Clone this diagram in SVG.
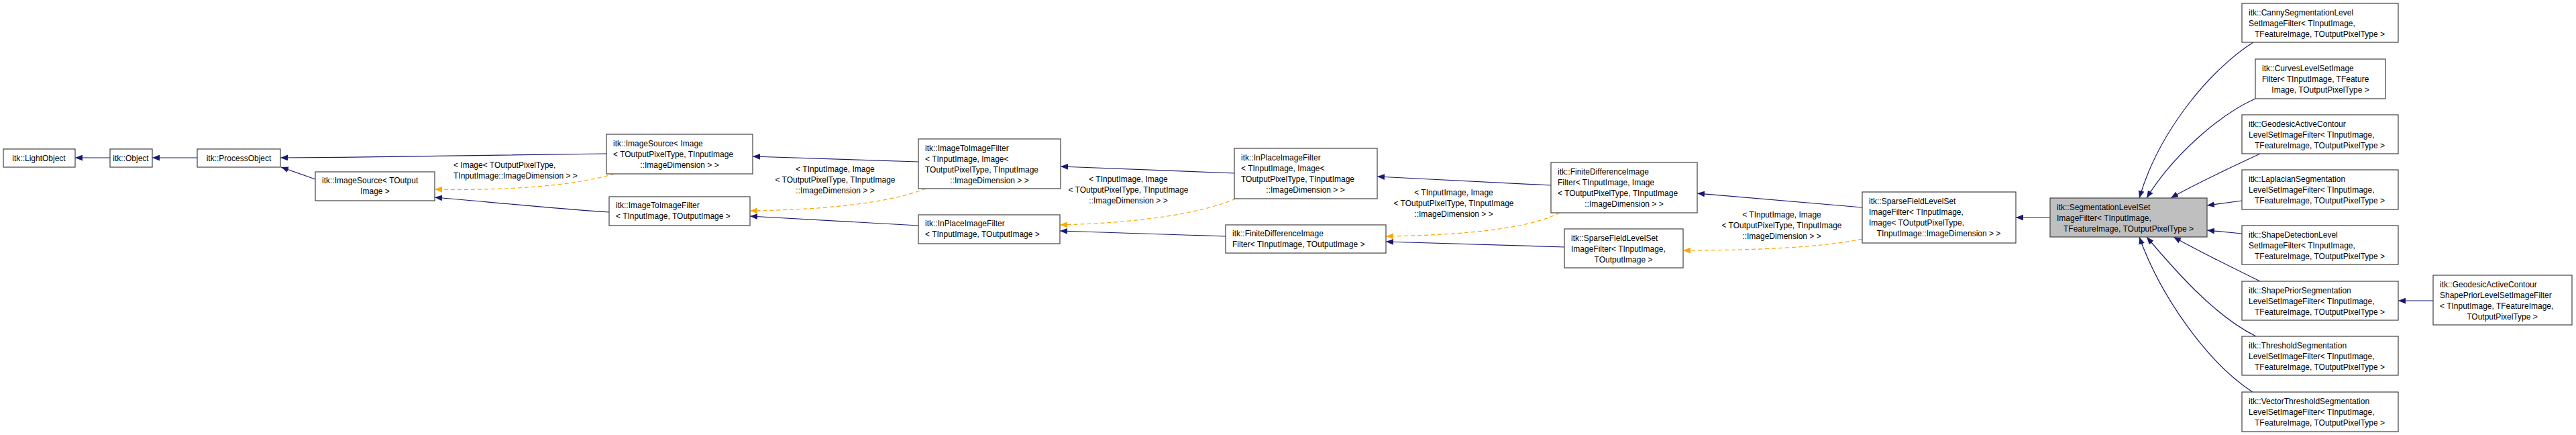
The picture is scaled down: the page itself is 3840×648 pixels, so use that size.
<svg xmlns="http://www.w3.org/2000/svg" width="3840" height="648" viewBox="0 0 3840 648">
<style>
text{font-family:"Liberation Sans",Arial,sans-serif;font-size:12px;fill:#000}
.n rect{fill:#fff;stroke:#404040;stroke-width:1.2}
.n.g rect{fill:#bfbfbf}
.c{text-anchor:middle}
.e{fill:none;stroke:#191970;stroke-width:1.2}
.o{fill:none;stroke:#ffa500;stroke-width:1.2;stroke-dasharray:6,4}
</style>
<defs>
<marker id="ab" viewBox="0 0 10 8" refX="10" refY="4" markerWidth="11" markerHeight="9" markerUnits="userSpaceOnUse" orient="auto"><path d="M0,0L10,4L0,8z" fill="#191970"/></marker>
<marker id="ao" viewBox="0 0 10 8" refX="10" refY="4" markerWidth="11" markerHeight="9" markerUnits="userSpaceOnUse" orient="auto"><path d="M0,0L10,4L0,8z" fill="#ffa500"/></marker>
</defs>
<rect width="3840" height="648" fill="#fff"/>
<g id="edges">
<path class="e" marker-end="url(#ab)" d="M164,235L112,235"/>
<path class="e" marker-end="url(#ab)" d="M294,235L227,235"/>
<path class="e" marker-end="url(#ab)" d="M470,267L419,249"/>
<path class="e" marker-end="url(#ab)" d="M904,229C800,231 600,234 418,235"/>
<path class="o" marker-end="url(#ao)" d="M916,259C850,278 750,284 648,282"/>
<path class="e" marker-end="url(#ab)" d="M908,316C820,310 720,300 648,294"/>
<path class="e" marker-end="url(#ab)" d="M1369,241L1122,233"/>
<path class="o" marker-end="url(#ao)" d="M1380,281C1330,300 1250,312 1118,314"/>
<path class="e" marker-end="url(#ab)" d="M1369,336L1118,322"/>
<path class="e" marker-end="url(#ab)" d="M1840,258L1581,248"/>
<path class="o" marker-end="url(#ao)" d="M1842,296C1790,318 1700,332 1580,335"/>
<path class="e" marker-end="url(#ab)" d="M1827,352L1580,344"/>
<path class="e" marker-end="url(#ab)" d="M2312,276L2053,263"/>
<path class="o" marker-end="url(#ao)" d="M2325,317C2280,340 2190,350 2066,352"/>
<path class="e" marker-end="url(#ab)" d="M2332,368L2066,360"/>
<path class="e" marker-end="url(#ab)" d="M2776,309L2530,288"/>
<path class="o" marker-end="url(#ao)" d="M2776,356C2720,368 2620,373 2509,373"/>
<path class="e" marker-end="url(#ab)" d="M3056,324L3005,324"/>
<path class="e" marker-end="url(#ab)" d="M3359,63C3300,100 3220,190 3189,295"/>
<path class="e" marker-end="url(#ab)" d="M3362,147C3310,170 3240,230 3200,295"/>
<path class="e" marker-end="url(#ab)" d="M3369,229C3320,252 3270,275 3236,295"/>
<path class="e" marker-end="url(#ab)" d="M3342,299L3290,306"/>
<path class="e" marker-end="url(#ab)" d="M3342,348L3290,343"/>
<path class="e" marker-end="url(#ab)" d="M3369,419C3320,395 3270,370 3240,353"/>
<path class="e" marker-end="url(#ab)" d="M3363,501C3300,470 3240,400 3200,353"/>
<path class="e" marker-end="url(#ab)" d="M3358,584C3290,540 3220,440 3189,353"/>
<path class="e" marker-end="url(#ab)" d="M3627,448L3575,448"/>
<text x="676" y="250">&lt; Image&lt; TOutputPixelType,</text>
<text x="676" y="266">TInputImage::ImageDimension &gt; &gt;</text>
<text class="c" x="1245" y="256">&lt; TInputImage, Image</text>
<text class="c" x="1245" y="272">&lt; TOutputPixelType, TInputImage</text>
<text class="c" x="1245" y="288">::ImageDimension &gt; &gt;</text>
<text class="c" x="1682" y="271">&lt; TInputImage, Image</text>
<text class="c" x="1682" y="287">&lt; TOutputPixelType, TInputImage</text>
<text class="c" x="1682" y="303">::ImageDimension &gt; &gt;</text>
<text class="c" x="2167" y="291">&lt; TInputImage, Image</text>
<text class="c" x="2167" y="307">&lt; TOutputPixelType, TInputImage</text>
<text class="c" x="2167" y="323">::ImageDimension &gt; &gt;</text>
<text class="c" x="2656" y="324">&lt; TInputImage, Image</text>
<text class="c" x="2656" y="340">&lt; TOutputPixelType, TInputImage</text>
<text class="c" x="2656" y="356">::ImageDimension &gt; &gt;</text>
</g>
<g id="n1" class="n"><rect x="5" y="222" width="107" height="27"/><text class="c" x="58" y="240">itk::LightObject</text></g>
<g id="n2" class="n"><rect x="164" y="222" width="63" height="27"/><text class="c" x="195" y="240">itk::Object</text></g>
<g id="n3" class="n"><rect x="294" y="222" width="124" height="27"/><text class="c" x="356" y="240">itk::ProcessObject</text></g>
<g id="n4" class="n"><rect x="470" y="256" width="178" height="43"/><text x="480" y="273">itk::ImageSource&lt; TOutput</text><text class="c" x="559" y="289">Image &gt;</text></g>
<g id="n5" class="n"><rect x="904" y="200" width="218" height="59"/><text x="914" y="218">itk::ImageSource&lt; Image</text><text x="914" y="234">&lt; TOutputPixelType, TInputImage</text><text class="c" x="1013" y="250">::ImageDimension &gt; &gt;</text></g>
<g id="n6" class="n"><rect x="908" y="293" width="210" height="43"/><text x="918" y="310">itk::ImageToImageFilter</text><text x="918" y="326">&lt; TInputImage, TOutputImage &gt;</text></g>
<g id="n7" class="n"><rect x="1369" y="207" width="212" height="74"/><text x="1379" y="225">itk::ImageToImageFilter</text><text x="1379" y="241">&lt; TInputImage, Image&lt;</text><text x="1379" y="257">TOutputPixelType, TInputImage</text><text class="c" x="1475" y="273">::ImageDimension &gt; &gt;</text></g>
<g id="n8" class="n"><rect x="1369" y="320" width="211" height="43"/><text x="1379" y="337">itk::InPlaceImageFilter</text><text x="1379" y="353">&lt; TInputImage, TOutputImage &gt;</text></g>
<g id="n9" class="n"><rect x="1840" y="221" width="213" height="75"/><text x="1850" y="239">itk::InPlaceImageFilter</text><text x="1850" y="255">&lt; TInputImage, Image&lt;</text><text x="1850" y="271">TOutputPixelType, TInputImage</text><text class="c" x="1946" y="287">::ImageDimension &gt; &gt;</text></g>
<g id="n10" class="n"><rect x="1827" y="335" width="239" height="42"/><text x="1837" y="352">itk::FiniteDifferenceImage</text><text x="1837" y="368">Filter&lt; TInputImage, TOutputImage &gt;</text></g>
<g id="n11" class="n"><rect x="2312" y="242" width="218" height="75"/><text x="2322" y="260">itk::FiniteDifferenceImage</text><text x="2322" y="276">Filter&lt; TInputImage, Image</text><text x="2322" y="292">&lt; TOutputPixelType, TInputImage</text><text class="c" x="2421" y="308">::ImageDimension &gt; &gt;</text></g>
<g id="n12" class="n"><rect x="2332" y="341" width="177" height="58"/><text x="2342" y="359">itk::SparseFieldLevelSet</text><text x="2342" y="375">ImageFilter&lt; TInputImage,</text><text class="c" x="2420" y="391">TOutputImage &gt;</text></g>
<g id="n13" class="n"><rect x="2776" y="286" width="229" height="76"/><text x="2786" y="304">itk::SparseFieldLevelSet</text><text x="2786" y="320">ImageFilter&lt; TInputImage,</text><text x="2786" y="336">Image&lt; TOutputPixelType,</text><text class="c" x="2890" y="352">TInputImage::ImageDimension &gt; &gt;</text></g>
<g id="n14" class="n g"><rect x="3056" y="295" width="234" height="58"/><text x="3066" y="313">itk::SegmentationLevelSet</text><text x="3066" y="329">ImageFilter&lt; TInputImage,</text><text class="c" x="3173" y="345">TFeatureImage, TOutputPixelType &gt;</text></g>
<g id="n15" class="n"><rect x="3342" y="5" width="233" height="58"/><text x="3352" y="23">itk::CannySegmentationLevel</text><text x="3352" y="39">SetImageFilter&lt; TInputImage,</text><text class="c" x="3458" y="55">TFeatureImage, TOutputPixelType &gt;</text></g>
<g id="n16" class="n"><rect x="3362" y="88" width="194" height="59"/><text x="3372" y="106">itk::CurvesLevelSetImage</text><text x="3372" y="122">Filter&lt; TInputImage, TFeature</text><text class="c" x="3459" y="138">Image, TOutputPixelType &gt;</text></g>
<g id="n17" class="n"><rect x="3342" y="171" width="233" height="58"/><text x="3352" y="189">itk::GeodesicActiveContour</text><text x="3352" y="205">LevelSetImageFilter&lt; TInputImage,</text><text class="c" x="3458" y="221">TFeatureImage, TOutputPixelType &gt;</text></g>
<g id="n18" class="n"><rect x="3342" y="253" width="233" height="59"/><text x="3352" y="271">itk::LaplacianSegmentation</text><text x="3352" y="287">LevelSetImageFilter&lt; TInputImage,</text><text class="c" x="3458" y="303">TFeatureImage, TOutputPixelType &gt;</text></g>
<g id="n19" class="n"><rect x="3342" y="336" width="233" height="58"/><text x="3352" y="354">itk::ShapeDetectionLevel</text><text x="3352" y="370">SetImageFilter&lt; TInputImage,</text><text class="c" x="3458" y="386">TFeatureImage, TOutputPixelType &gt;</text></g>
<g id="n20" class="n"><rect x="3342" y="419" width="233" height="58"/><text x="3352" y="437">itk::ShapePriorSegmentation</text><text x="3352" y="453">LevelSetImageFilter&lt; TInputImage,</text><text class="c" x="3458" y="469">TFeatureImage, TOutputPixelType &gt;</text></g>
<g id="n21" class="n"><rect x="3342" y="501" width="233" height="58"/><text x="3352" y="519">itk::ThresholdSegmentation</text><text x="3352" y="535">LevelSetImageFilter&lt; TInputImage,</text><text class="c" x="3458" y="551">TFeatureImage, TOutputPixelType &gt;</text></g>
<g id="n22" class="n"><rect x="3342" y="584" width="233" height="59"/><text x="3352" y="602">itk::VectorThresholdSegmentation</text><text x="3352" y="618">LevelSetImageFilter&lt; TInputImage,</text><text class="c" x="3458" y="634">TFeatureImage, TOutputPixelType &gt;</text></g>
<g id="n23" class="n"><rect x="3627" y="410" width="207" height="74"/><text x="3637" y="428">itk::GeodesicActiveContour</text><text x="3637" y="444">ShapePriorLevelSetImageFilter</text><text x="3637" y="460">&lt; TInputImage, TFeatureImage,</text><text class="c" x="3730" y="476">TOutputPixelType &gt;</text></g>
</svg>
